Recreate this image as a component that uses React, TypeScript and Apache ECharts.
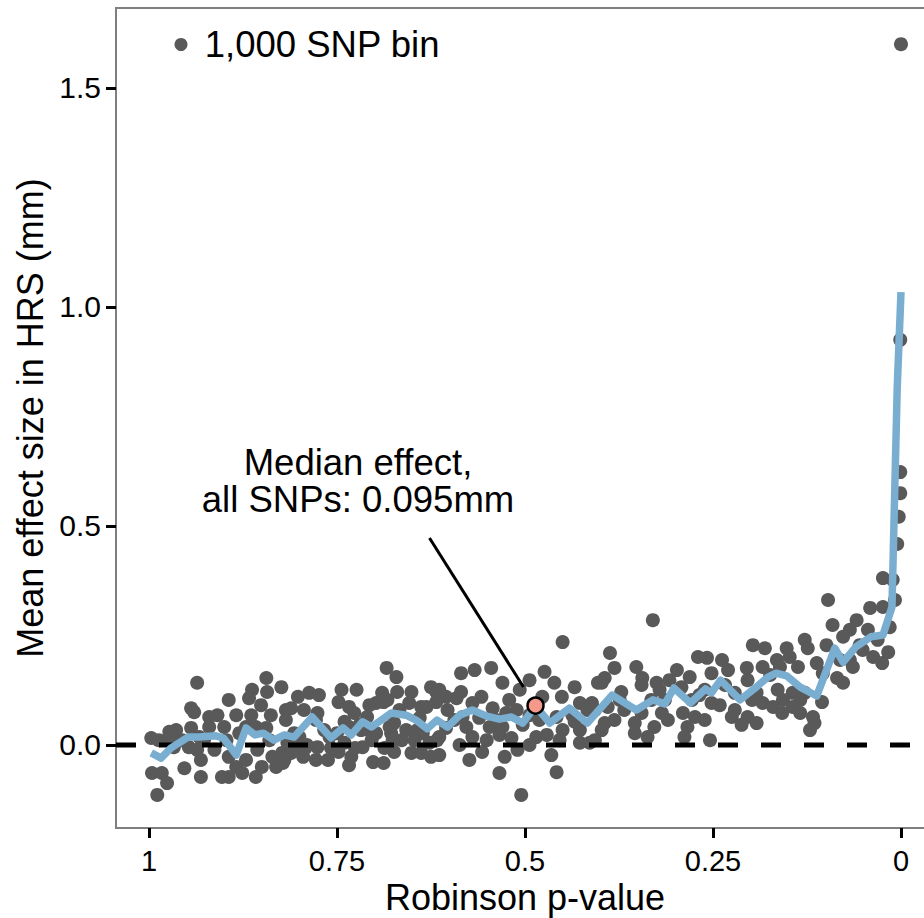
import React, { useEffect, useRef } from "react";
import * as echarts from "echarts";

// Axis ranges (data units)
const X_MIN = -0.0439;
const X_MAX = 1.0439;
const Y_MIN = -0.1895;
const Y_MAX = 1.6826;

const xTicks = [0, 0.25, 0.5, 0.75, 1];
const yTicks = [0, 0.5, 1.0, 1.5];

const legendLabel = "1,000 SNP bin";
const xTitle = "Robinson p-value";
const yTitle = "Mean effect size in HRS (mm)";
const annotationText = "Median effect,\nall SNPs: 0.095mm";

// 1,000-SNP bins: [Robinson p-value, mean effect (mm)]
const binPoints: [number, number][] = [
  [0.936, 0.142], [0.844, 0.153], [0.824, 0.132], [0.843, 0.121], [0.863, 0.126],
  [0.867, 0.107], [0.944, 0.084], [0.940, 0.075], [0.920, 0.064], [0.909, 0.068],
  [0.900, 0.041], [0.884, 0.068], [0.864, 0.068], [0.871, 0.041], [0.858, 0.041],
  [0.844, 0.039], [0.818, 0.080], [0.964, 0.034], [0.944, 0.039], [0.920, 0.041],
  [0.997, 0.016], [0.987, 0.011], [0.973, 0.016], [0.967, -0.005], [0.956, 0.011],
  [0.947, -0.005], [0.936, -0.011], [0.927, 0.011], [0.913, -0.011], [0.897, 0.011],
  [0.894, -0.027], [0.884, -0.050], [0.894, -0.073], [0.871, -0.034], [0.876, -0.064],
  [0.856, -0.011], [0.850, -0.050], [0.858, -0.073], [0.836, -0.027], [0.831, -0.050],
  [0.823, -0.018], [0.953, -0.053], [0.931, -0.034], [0.931, -0.073], [0.996, -0.064],
  [0.983, -0.064], [0.976, -0.087], [0.989, -0.114], [0.903, -0.073], [0.973, 0.030],
  [0.840, 0.011], [0.814, 0.011], [0.822, -0.041], [0.933, 0.018], [0.880, 0.027],
  [0.894, 0.103], [0.851, 0.091], [0.838, 0.068],
  // 0.8 - 0.6
  [0.802, 0.110], [0.787, 0.119], [0.774, 0.114], [0.744, 0.126], [0.724, 0.126],
  [0.748, 0.098], [0.734, 0.087], [0.707, 0.091], [0.688, 0.098], [0.684, 0.176],
  [0.811, 0.084], [0.818, 0.057], [0.778, 0.057], [0.734, 0.041], [0.708, 0.034],
  [0.698, 0.027], [0.804, -0.011], [0.795, -0.027], [0.778, -0.034], [0.762, -0.034],
  [0.748, -0.016], [0.731, -0.027], [0.702, -0.039], [0.688, -0.041], [0.671, 0.155],
  [0.670, 0.121], [0.651, 0.121], [0.625, 0.132], [0.618, 0.121], [0.698, 0.096],
  [0.683, 0.103], [0.654, 0.096], [0.638, 0.087], [0.618, 0.098], [0.794, 0.080],
  [0.776, 0.073], [0.727, 0.073], [0.710, 0.064], [0.740, 0.053], [0.674, 0.050],
  [0.643, 0.034], [0.617, 0.011], [0.807, 0.027], [0.767, 0.034], [0.750, 0.027],
  [0.718, 0.034], [0.678, 0.027], [0.816, 0.005], [0.792, -0.007], [0.776, -0.005],
  [0.758, -0.007], [0.740, 0.005], [0.716, -0.005], [0.704, 0.011], [0.687, -0.007],
  [0.664, 0.011], [0.651, -0.018], [0.638, -0.018], [0.625, -0.027], [0.811, -0.018],
  [0.734, -0.046], [0.820, -0.034], [0.690, 0.119], [0.667, 0.080], [0.631, 0.087],
  [0.680, 0.041], [0.658, 0.034], [0.636, 0.027], [0.676, 0.011], [0.800, 0.018],
  [0.760, 0.018], [0.720, 0.046], [0.640, 0.062], [0.790, 0.000], [0.726, -0.007],
  [0.674, -0.016], [0.647, 0.011], [0.627, 0.005],
  // 0.6 - 0.4
  [0.450, 0.235], [0.585, 0.164], [0.567, 0.171], [0.545, 0.176], [0.474, 0.167],
  [0.530, 0.142], [0.494, 0.148], [0.461, 0.142], [0.434, 0.132], [0.403, 0.142],
  [0.614, 0.126], [0.585, 0.121], [0.591, 0.107], [0.558, 0.110], [0.521, 0.103],
  [0.507, 0.126], [0.477, 0.110], [0.451, 0.110], [0.427, 0.096], [0.411, 0.096],
  [0.570, 0.096], [0.543, 0.084], [0.603, 0.080], [0.583, 0.064], [0.561, 0.062],
  [0.525, 0.073], [0.511, 0.080], [0.458, 0.064], [0.437, 0.068], [0.417, 0.080],
  [0.605, 0.039], [0.578, 0.041], [0.547, 0.041], [0.530, 0.041], [0.503, 0.046],
  [0.481, 0.057], [0.450, 0.034], [0.427, 0.034], [0.614, 0.018], [0.570, 0.018],
  [0.551, 0.011], [0.534, 0.023], [0.518, 0.016], [0.485, 0.018], [0.471, 0.023],
  [0.454, 0.011], [0.427, 0.005], [0.414, 0.005], [0.557, -0.016], [0.614, -0.023],
  [0.527, -0.027], [0.510, -0.011], [0.465, -0.023], [0.534, -0.064], [0.458, -0.062],
  [0.505, -0.114], [0.605, 0.110], [0.594, 0.057], [0.538, 0.057], [0.494, 0.068],
  [0.434, 0.053], [0.587, 0.000], [0.574, -0.034], [0.494, 0.000],
  // 0.4 - 0.2
  [0.330, 0.285], [0.387, 0.210], [0.197, 0.228], [0.270, 0.201], [0.258, 0.199],
  [0.238, 0.194], [0.205, 0.176], [0.352, 0.178], [0.381, 0.176], [0.298, 0.171],
  [0.394, 0.153], [0.344, 0.153], [0.325, 0.142], [0.281, 0.155], [0.252, 0.164],
  [0.230, 0.171], [0.398, 0.142], [0.345, 0.137], [0.308, 0.148], [0.292, 0.132],
  [0.261, 0.126], [0.204, 0.148], [0.372, 0.121], [0.332, 0.103], [0.314, 0.103],
  [0.278, 0.103], [0.252, 0.096], [0.221, 0.119], [0.198, 0.103], [0.407, 0.080],
  [0.390, 0.087], [0.368, 0.080], [0.345, 0.073], [0.318, 0.073], [0.290, 0.073],
  [0.274, 0.064], [0.225, 0.064], [0.204, 0.064], [0.394, 0.050], [0.354, 0.050],
  [0.328, 0.041], [0.310, 0.057], [0.284, 0.041], [0.261, 0.057], [0.212, 0.046],
  [0.398, 0.034], [0.354, 0.027], [0.337, 0.018], [0.288, 0.018], [0.254, 0.011],
  [0.407, 0.011], [0.374, 0.103], [0.268, 0.114], [0.234, 0.137], [0.381, 0.057],
  [0.321, 0.126], [0.241, 0.091], [0.221, 0.080],
  // 0.2 - 0
  [0.097, 0.331], [0.024, 0.381], [0.011, 0.377], [0.041, 0.313], [0.024, 0.315],
  [0.091, 0.274], [0.059, 0.285], [0.015, 0.269], [0.068, 0.263], [0.044, 0.263],
  [0.128, 0.240], [0.077, 0.247], [0.181, 0.221], [0.152, 0.221], [0.099, 0.228],
  [0.051, 0.217], [0.017, 0.212], [0.124, 0.221], [0.165, 0.194], [0.148, 0.201],
  [0.137, 0.178], [0.112, 0.187], [0.068, 0.194], [0.037, 0.201], [0.025, 0.187],
  [0.184, 0.178], [0.161, 0.178], [0.104, 0.164], [0.064, 0.178], [0.174, 0.160],
  [0.085, 0.153], [0.077, 0.142], [0.192, 0.119], [0.164, 0.126], [0.144, 0.119],
  [0.128, 0.119], [0.184, 0.096], [0.157, 0.103], [0.134, 0.103], [0.105, 0.098],
  [0.170, 0.087], [0.144, 0.087], [0.192, 0.050], [0.158, 0.073], [0.134, 0.073],
  [0.117, 0.064], [0.115, 0.050], [0.121, 0.034], [0.081, 0.194], [0.055, 0.228],
  [0.031, 0.240], [0.008, 0.331],
  // most significant bins
  [0.001, 0.925], [0.001, 0.623], [0.001, 0.575], [0.003, 0.521], [0.005, 0.459],
  [0.000, 1.600],
];

// running mean line: [p-value, effect]
const runningMean: [number, number][] = [
  [0.997, -0.018], [0.984, -0.030], [0.971, -0.007], [0.948, 0.018], [0.933, 0.018],
  [0.911, 0.021], [0.901, 0.016], [0.884, -0.023], [0.871, 0.039], [0.859, 0.023],
  [0.848, 0.027], [0.834, 0.011], [0.820, 0.023], [0.807, 0.018], [0.783, 0.064],
  [0.758, 0.016], [0.742, 0.039], [0.731, 0.023], [0.716, 0.053], [0.704, 0.041],
  [0.678, 0.073], [0.658, 0.068], [0.645, 0.057], [0.630, 0.037], [0.617, 0.057],
  [0.603, 0.041], [0.587, 0.068], [0.570, 0.080], [0.551, 0.066], [0.534, 0.059],
  [0.518, 0.064], [0.503, 0.050], [0.486, 0.089], [0.467, 0.050], [0.441, 0.084],
  [0.417, 0.050], [0.384, 0.114], [0.352, 0.080], [0.330, 0.103], [0.314, 0.094],
  [0.302, 0.130], [0.280, 0.096], [0.260, 0.128], [0.252, 0.119], [0.240, 0.148],
  [0.214, 0.103], [0.194, 0.130], [0.177, 0.155], [0.166, 0.164], [0.152, 0.158],
  [0.134, 0.132], [0.112, 0.112], [0.088, 0.221], [0.077, 0.189], [0.060, 0.224],
  [0.040, 0.247], [0.024, 0.251], [0.012, 0.315], [0.005, 0.817], [0.000, 1.034],
];

const medianPoint: [number, number] = [0.486, 0.09];
const annotationSegment: [number, number][] = [[0.627, 0.4726], [0.502, 0.1324]];
const zeroLine: [number, number][] = [[X_MAX, 0], [X_MIN, 0]];

const FONT = "'Liberation Sans', Arial, Helvetica, sans-serif";

export default function App() {
  const ref = useRef<HTMLDivElement>(null);
  useEffect(() => {
    if (!ref.current) return;
    const chart = echarts.init(ref.current, undefined, { renderer: "svg" });
    chart.setOption({
      animation: false,
      backgroundColor: "#ffffff",
      grid: {
        left: 116,
        top: 8,
        width: 818,
        height: 820,
        show: true,
        borderColor: "#7f7f7f",
        borderWidth: 2,
        backgroundColor: "transparent",
        containLabel: false,
        outerBoundsMode: "none",
      },
      legend: {
        data: [{ name: legendLabel, icon: "circle" }],
        left: 174.5,
        top: 26,
        padding: 0,
        itemWidth: 37.5,
        itemHeight: 13,
        textStyle: { fontSize: 36.5, color: "#000", fontFamily: FONT },
      },
      xAxis: {
        type: "value",
        inverse: true,
        min: X_MIN,
        max: X_MAX,
        splitLine: { show: false },
        axisLine: { show: false, onZero: false },
        axisTick: {
          show: true,
          length: 10,
          customValues: xTicks,
          lineStyle: { color: "#000", width: 3 },
        },
        axisLabel: {
          customValues: xTicks,
          margin: 18,
          fontSize: 29,
          color: "#000",
          fontFamily: FONT,
          formatter: (v: number) => String(v),
        },
        name: xTitle,
        nameLocation: "middle",
        nameGap: 51,
        nameTextStyle: { fontSize: 36, color: "#000", fontFamily: FONT },
      },
      yAxis: {
        type: "value",
        min: Y_MIN,
        max: Y_MAX,
        splitLine: { show: false },
        axisLine: { show: false, onZero: false },
        axisTick: {
          show: true,
          length: 10,
          customValues: yTicks,
          lineStyle: { color: "#000", width: 3 },
        },
        axisLabel: {
          customValues: yTicks,
          margin: 15,
          fontSize: 30,
          color: "#000",
          fontFamily: FONT,
          formatter: (v: number) => v.toFixed(1),
        },
        name: yTitle,
        nameLocation: "middle",
        nameGap: 63,
        nameTextStyle: { fontSize: 36, color: "#000", fontFamily: FONT },
      },
      graphic: [
        {
          type: "text",
          x: 358,
          y: 481,
          z: 100,
          style: {
            text: annotationText,
            fontSize: 36.5,
            fontFamily: FONT,
            fill: "#000",
            align: "center",
            verticalAlign: "middle",
            lineHeight: 37,
          },
        },
      ],
      series: [
        {
          name: legendLabel,
          type: "scatter",
          data: binPoints,
          symbol: "circle",
          symbolSize: 14,
          itemStyle: { color: "#595959", opacity: 1 },
          z: 2,
          silent: true,
        },
        {
          name: "zero",
          type: "line",
          data: zeroLine,
          showSymbol: false,
          symbol: "none",
          lineStyle: { color: "#000", width: 5, type: [20, 23] },
          z: 3,
          silent: true,
        },
        {
          name: "running mean",
          type: "line",
          data: runningMean,
          showSymbol: false,
          symbol: "none",
          lineStyle: { color: "#7aaed1", width: 7.5, join: "round", cap: "butt" },
          z: 4,
          silent: true,
        },
        {
          name: "annotation",
          type: "line",
          data: annotationSegment,
          showSymbol: false,
          symbol: "none",
          lineStyle: { color: "#000", width: 3 },
          z: 5,
          silent: true,
        },
        {
          name: "median",
          type: "scatter",
          data: [medianPoint],
          symbol: "circle",
          symbolSize: 16,
          itemStyle: { color: "#f59a8b", borderColor: "#000", borderWidth: 2.5, opacity: 1 },
          z: 6,
          silent: true,
        },
      ],
    });
    return () => chart.dispose();
  }, []);
  return (
    <div
      ref={ref}
      style={{ position: "absolute", left: 0, top: 0, width: 924, height: 918 }}
    />
  );
}
